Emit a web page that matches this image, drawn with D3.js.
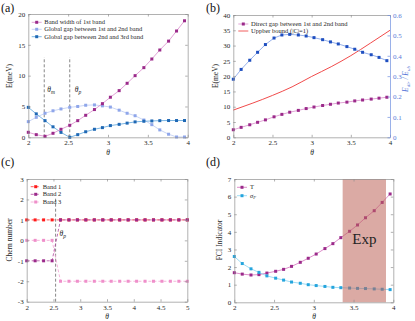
<!DOCTYPE html>
<html><head><meta charset="utf-8">
<script src="https://cdn.jsdelivr.net/npm/d3@7"></script>
<style>
body{margin:0;background:#fff}
svg{display:block}
text{font-family:"Liberation Serif","Times New Roman",serif}
</style>
</head><body>
<svg id="c" width="415" height="321"></svg>
<script>
// ---------- data ----------
const theta = [2.00,2.10,2.21,2.31,2.41,2.52,2.62,2.72,2.83,2.93,3.03,3.14,3.24,3.34,3.45,3.55,3.65,3.76,3.86,3.96];
// panel (a)
const bandWidth1 = [0.81,0.43,0.16,0.65,1.30,1.95,2.70,3.57,4.50,5.46,6.50,7.57,8.76,10.0,11.3,12.7,14.16,15.6,17.24,18.9];
const gap12 = [2.54,3.24,3.90,4.30,4.60,4.86,5.00,5.20,5.25,5.10,4.90,4.40,3.90,3.50,2.80,2.05,1.20,0.50,0.05,0.05];
const gap23 = [4.86,3.80,2.70,1.70,0.80,0.00,0.43,0.90,1.30,1.57,1.90,2.10,2.30,2.50,2.60,2.65,2.70,2.72,2.72,2.72];
const thetaM = 2.2, thetaP = 2.52;
// panel (b)
const directGap = [2.47,3.25,4.10,4.90,5.70,6.70,7.50,8.20,8.80,9.40,9.90,10.4,10.8,11.2,11.5,11.9,12.2,12.5,12.8,13.1];
const ratioDirUb = [0.285,0.333,0.378,0.417,0.455,0.487,0.502,0.505,0.502,0.497,0.489,0.479,0.468,0.458,0.445,0.432,0.417,0.405,0.392,0.376];
const upperTheta = [2.0,2.25,2.5,2.75,3.0,3.25,3.5,3.75,4.0];
const upperBound = [8.9,11.2,13.7,16.5,19.9,23.1,26.7,30.8,35.0];
// panel (c)
const thetaC = [2.000,2.158,2.316,2.474,2.632,2.789,2.947,3.105,3.263,3.421,3.579,3.737,3.895,4.053,4.211,4.368,4.526,4.684,4.842,5.000];
const chern1 = [1,1,1,1,1,1,1,1,1,1,1,1,1,1,1,1,1,1,1,1];
const chern2 = [-1,-1,-1,-1,1,1,1,1,1,1,1,1,1,1,1,1,1,1,1,1];
const chern3 = [0,0,0,0,-2,-2,-2,-2,-2,-2,-2,-2,-2,-2,-2,-2,-2,-2,-2,-2];
const thetaPc = 2.54;
// panel (d)
const indicatorT = [1.68,1.60,1.55,1.57,1.66,1.76,1.87,2.04,2.27,2.50,2.74,3.05,3.33,3.67,4.03,4.39,4.80,5.20,5.67,6.15];
const sigmaF = [2.60,2.20,1.90,1.70,1.50,1.37,1.26,1.15,1.08,1.00,0.95,0.90,0.85,0.83,0.81,0.79,0.78,0.76,0.74,0.72];
const expRange = [3.363,3.908];
// ticks
const xTicks24 = [2,2.5,3,3.5,4];
const xTicks25 = [2,2.5,3,3.5,4,4.5,5];
const yTicksA = [0,5,10,15,20];
const yTicksB = [0,5,10,15,20,25,30,35,40];
const yTicksBR = [0,0.1,0.2,0.3,0.4,0.5,0.6];
const yTicksC = [-3,-2,-1,0,1,2,3];
const yTicksD = [0,1,2,3,4,5,6,7];
const legendA = ["Band width of 1st band","Global gap between 1st and 2nd band","Global gap between 2nd and 3rd band"];
const legendB = ["Direct gap between 1st and 2nd band","Uppber bound (|C|=1)"];
const legendC = ["Band 1","Band 2","Band 3"];

// ---------- drawing ----------
const svg = d3.select('#c');
const AX = '#8f8f8f', TXT = '#262626';
const FS = 7;

function axes(x, y, xt, yt, opts={}) {
  const [x0,x1] = x.range(), [y0,y1] = y.range();
  const g = svg.append('g');
  const tk = 2.5;
  const fmt = d => String(d);
  g.append('g').attr('transform',`translate(0,${y0})`)
    .call(d3.axisBottom(x).tickValues(xt).tickFormat(fmt).tickSize(-tk).tickSizeOuter(0).tickPadding(3));
  g.append('g').attr('transform',`translate(0,${y1})`)
    .call(d3.axisTop(x).tickValues(xt).tickFormat('').tickSize(-tk).tickSizeOuter(0));
  g.append('g').attr('transform',`translate(${x0},0)`)
    .call(d3.axisLeft(y).tickValues(yt).tickFormat(fmt).tickSize(-tk).tickSizeOuter(0).tickPadding(3));
  g.selectAll('path.domain, line').attr('stroke',AX).attr('stroke-width',0.7);
  if (!opts.noRight) {
    const r = g.append('g').attr('transform',`translate(${x1},0)`)
      .call(d3.axisRight(y).tickValues(yt).tickFormat('').tickSize(-tk).tickSizeOuter(0));
    r.selectAll('path.domain, line').attr('stroke',AX).attr('stroke-width',0.7);
  }
  g.selectAll('text').attr('font-size',FS).attr('fill',TXT).attr('font-family','"Liberation Serif",serif');
  return g;
}

function series(g, xs, ys, x, y, lineColor, markColor, opts={}) {
  const pts = xs.map((v,i)=>[v, ys[i]]);
  const line = d3.line().x(d=>x(d[0])).y(d=>y(d[1]));
  if (opts.curve) line.curve(opts.curve);
  g.append('path').attr('d', line(pts)).attr('fill','none')
    .attr('stroke',lineColor).attr('stroke-width',opts.w||0.8)
    .attr('stroke-dasharray',opts.dash||null);
  if (markColor) {
    const s = opts.ms||3;
    g.selectAll(null).data(pts).join('rect')
      .attr('x',d=>x(d[0])-s/2).attr('y',d=>y(d[1])-s/2)
      .attr('width',s).attr('height',s).attr('fill',markColor);
  }
}

function legend(g, items, x0, ys, xText) {
  items.forEach((it,i)=>{
    g.append('line').attr('x1',x0).attr('x2',x0+10).attr('y1',ys[i]).attr('y2',ys[i])
      .attr('stroke',it.line).attr('stroke-width',0.8).attr('stroke-dasharray',it.dash||null);
    if (it.mark) g.append('rect').attr('x',x0+5-1.5).attr('y',ys[i]-1.5).attr('width',3).attr('height',3).attr('fill',it.mark);
    const t = g.append('text').attr('x',xText).attr('y',ys[i]).attr('dy','0.33em')
      .attr('font-size',6.5).attr('fill',TXT);
    if (it.sub) {
      t.attr('font-style','italic');
      t.append('tspan').text(it.name);
      t.append('tspan').attr('font-size',4.5).attr('dy',1.5).text(it.sub);
    } else t.text(it.name);
  });
}

function ylab(x, y, txt, color) {
  svg.append('text').attr('transform',`translate(${x},${y}) rotate(-90)`)
    .attr('text-anchor','middle').attr('font-size',7.5).attr('fill',color||TXT).text(txt);
}
function xlab(x, y) {
  svg.append('text').attr('x',x).attr('y',y).attr('text-anchor','middle')
    .attr('font-size',7.5).attr('font-style','italic').attr('fill',TXT).text('θ');
}
function plabel(x,y,t){ svg.append('text').attr('x',x).attr('y',y).attr('font-size',12).attr('fill','#111').text(t); }
function thetaSub(g,x,y,sub){
  const t=g.append('text').attr('x',x).attr('y',y).attr('font-size',7.5).attr('font-style','italic').attr('fill',TXT);
  t.append('tspan').text('θ');
  t.append('tspan').attr('font-size',5.5).attr('dy',2).text(sub);
}

const MAG='#9b2a8a', MAGL='#d98ccc', LB='#8fa6ea', LBL='#bccbf2', DB='#1f68b4', DBL='#5aa3dc';

// ---- panel (a)
{
  const x = d3.scaleLinear().domain([2,4]).range([28.3,187.7]);
  const y = d3.scaleLinear().domain([0,20]).range([137.3,14]);
  const g = svg.append('g');
  [thetaM, thetaP].forEach(v=>{
    g.append('line').attr('x1',x(v)).attr('x2',x(v)).attr('y1',y(0)).attr('y2',y(13))
      .attr('stroke','#555').attr('stroke-width',0.7).attr('stroke-dasharray','3,2');
  });
  thetaSub(g, x(thetaM)+3, y(7.3), 'm');
  thetaSub(g, x(thetaP)+5, y(7.3), 'p');
  series(g, theta, gap12, x, y, LBL, LB);
  series(g, theta, gap23, x, y, DBL, DB);
  series(g, theta, bandWidth1, x, y, MAGL, MAG);
  axes(x,y,xTicks24,yTicksA);
  legend(g, [{name:legendA[0],line:MAGL,mark:MAG},{name:legendA[1],line:LBL,mark:LB},{name:legendA[2],line:DBL,mark:DB}], 31.7, [22.3,29.3,36.7], 44.3);
  ylab(12, 76, 'E(meV)');
  xlab(108, 155);
  plabel(1, 12, '(a)');
}

// ---- panel (b)
{
  const x = d3.scaleLinear().domain([2,4]).range([233.3,390]);
  const y = d3.scaleLinear().domain([0,40]).range([137.3,15]);
  const yr = d3.scaleLinear().domain([0,0.6]).range([137.3,15]);
  const g = svg.append('g');
  series(g, upperTheta, upperBound, x, y, '#ee3535', null, {curve:d3.curveMonotoneX, w:0.9});
  series(g, theta, directGap, x, y, MAGL, MAG);
  series(g, theta, ratioDirUb, x, yr, '#7c9de6', '#1f4fc0');
  axes(x,y,xTicks24,yTicksB,{noRight:true});
  const RC = '#6f8fe0';
  const r = svg.append('g').attr('transform',`translate(390,0)`)
    .call(d3.axisRight(yr).tickValues(yTicksBR).tickFormat(d=>String(d)).tickSize(-2.5).tickSizeOuter(0).tickPadding(3));
  r.selectAll('path.domain, line').attr('stroke',RC).attr('stroke-width',0.7);
  r.selectAll('text').attr('font-size',FS).attr('fill','#5a7ad8').attr('font-family','"Liberation Serif",serif');
  legend(g, [{name:legendB[0],line:MAGL,mark:MAG},{name:legendB[1],line:'#ee3535'}], 238.3, [24,31], 251);
  ylab(218, 76, 'E(meV)');
  const t = svg.append('text').attr('transform',`translate(408,79) rotate(-90)`)
    .attr('text-anchor','middle').attr('font-size',7.5).attr('font-style','italic').attr('fill','#5a7ad8');
  t.append('tspan').text('E');
  t.append('tspan').attr('font-size',5).attr('dy',1.5).text('dir');
  t.append('tspan').attr('dy',-1.5).text(' / E');
  t.append('tspan').attr('font-size',5).attr('dy',1.5).text('ub');
  xlab(312, 155);
  plabel(206, 12, '(b)');
}

// ---- panel (c)
{
  const x = d3.scaleLinear().domain([2,5]).range([26.7,187.3]);
  const y = d3.scaleLinear().domain([-3,3]).range([301.7,179]);
  const g = svg.append('g');
  g.append('line').attr('x1',x(thetaPc)).attr('x2',x(thetaPc)).attr('y1',y(-3)).attr('y2',y(2.05))
    .attr('stroke','#555').attr('stroke-width',0.7).attr('stroke-dasharray','3,2');
  thetaSub(g, x(thetaPc)+4, y(0.2), 'p');
  series(g, thetaC, chern1, x, y, '#ff3030', '#ff1a1a', {dash:'3,2'});
  series(g, thetaC, chern3, x, y, '#f3a3d3', '#ef8fca', {dash:'3,2'});
  series(g, thetaC, chern2, x, y, '#b0479f', '#9b2a8a', {dash:'3,2'});
  axes(x,y,xTicks25,yTicksC);
  legend(g, [{name:legendC[0],line:'#ff3030',mark:'#ff1a1a',dash:'3,2'},{name:legendC[1],line:'#b0479f',mark:'#9b2a8a',dash:'3,2'},{name:legendC[2],line:'#f3a3d3',mark:'#ef8fca',dash:'3,2'}], 30.7, [186.7,194.3,202], 42.7);
  ylab(12, 240, 'Chern number');
  xlab(107, 319);
  plabel(1, 166, '(c)');
}

// ---- panel (d)
{
  const x = d3.scaleLinear().domain([2,4]).range([234.3,393.3]);
  const y = d3.scaleLinear().domain([0,7]).range([302.3,179]);
  const g = svg.append('g');
  series(g, theta, indicatorT, x, y, '#d470bd', '#9b2a8a');
  series(g, theta, sigmaF, x, y, '#86d3f2', '#25a5dd');
  g.append('rect').attr('x',x(expRange[0])).attr('y',y(7)).attr('width',x(expRange[1])-x(expRange[0]))
    .attr('height',y(0)-y(7)).attr('fill','rgb(190,100,90)').attr('fill-opacity',0.55);
  g.append('text').attr('x',(x(expRange[0])+x(expRange[1]))/2).attr('y',y(3.3))
    .attr('text-anchor','middle').attr('font-size',15).attr('fill','#222').text('Exp');
  axes(x,y,xTicks24,yTicksD);
  legend(g, [{name:'T',line:'#d470bd',mark:'#9b2a8a'},{name:'σ',sub:'F',line:'#86d3f2',mark:'#25a5dd'}], 237, [187.3,195.7], 250);
  ylab(222, 240, 'FCI Indicator');
  xlab(314, 319);
  plabel(206, 166, '(d)');
}
</script>
</body></html>
